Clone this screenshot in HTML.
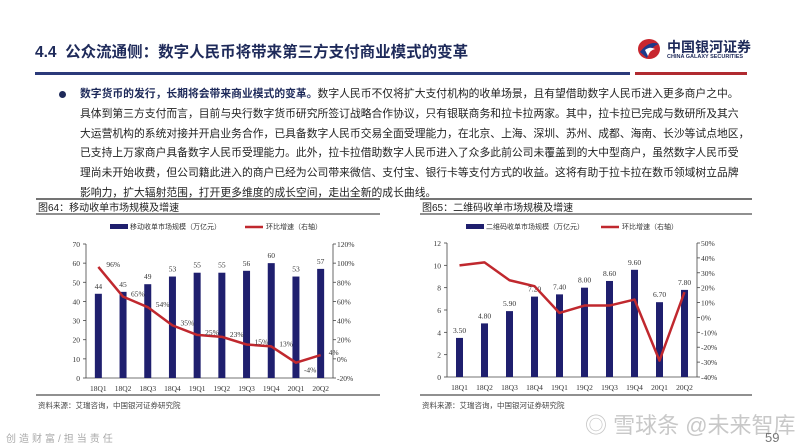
<!DOCTYPE html>
<html><head><meta charset="utf-8"><style>
body{margin:0;width:800px;height:448px;background:#fff;overflow:hidden;position:relative;font-family:"Liberation Sans","Noto Sans CJK SC",sans-serif;}
.abs{position:absolute}
.para{left:80px;top:85px;font-size:10.8px;line-height:19.8px;color:#222;white-space:nowrap}
</style></head><body>
<div class="abs" style="left:35px;top:40px;font-size:15.5px;font-weight:bold;color:#1e2a5a;">4.4&nbsp; 公众流通侧：数字人民币将带来第三方支付商业模式的变革</div>
<div class="abs" style="left:35px;top:72px;width:595px;height:3px;background:#2b3a7a"></div>
<div class="abs" style="left:635px;top:72px;width:112px;height:3px;background:#b02a30"></div>
<div class="abs" style="left:637px;top:38px;width:125px;height:24px;">
<svg width="26" height="22" style="position:absolute;left:0;top:0"><ellipse cx="12" cy="11" rx="11" ry="10" fill="#c8262e"/><path d="M3 14 Q12 2 22 6 Q14 8 10 20 Z" fill="#1e3a8a"/><path d="M8 12 Q13 8 18 11 Q13 12 11 18Z" fill="#fff"/></svg>
<div style="position:absolute;left:30px;top:-1px;font-size:14px;font-weight:bold;color:#1e2a5a;white-space:nowrap">中国银河证券</div>
<div style="position:absolute;left:30px;top:16px;font-size:5.5px;font-weight:bold;color:#1e2a5a;white-space:nowrap">CHINA GALAXY SECURITIES</div>
</div>
<div class="abs" style="left:59px;top:91px;width:7px;height:7px;border-radius:50%;background:#1e2a5a"></div>
<div class="abs para"><b style="color:#1e2a5a">数字货币的发行，长期将会带来商业模式的变革。</b>数字人民币不仅将扩大支付机构的收单场景，且有望借助数字人民币进入更多商户之中。<br>具体到第三方支付而言，目前与央行数字货币研究所签订战略合作协议，只有银联商务和拉卡拉两家。其中，拉卡拉已完成与数研所及其六<br>大运营机构的系统对接并开启业务合作，已具备数字人民币交易全面受理能力，在北京、上海、深圳、苏州、成都、海南、长沙等试点地区，<br>已支持上万家商户具备数字人民币受理能力。此外，拉卡拉借助数字人民币进入了众多此前公司未覆盖到的大中型商户，虽然数字人民币受<br>理尚未开始收费，但公司籍此进入的商户已经为公司带来微信、支付宝、银行卡等支付方式的收益。这将有助于拉卡拉在数币领域树立品牌<br>影响力，扩大辐射范围，打开更多维度的成长空间，走出全新的成长曲线。</div>

<svg class="abs" style="left:0;top:0" width="800" height="448" id="charts"></svg>

<div class="abs" style="left:6px;top:430px;font-size:10px;color:#aaa;letter-spacing:3px">创造财富/担当责任</div>
<div class="abs" style="left:585px;top:408px;font-size:22px;color:#bbb;opacity:.8">◎ 雪球条 @未来智库</div>
<div class="abs" style="left:765px;top:430px;font-size:13px;color:#777">59</div>

<script>
const cats = ["18Q1","18Q2","18Q3","18Q4","19Q1","19Q2","19Q3","19Q4","20Q1","20Q2"];
const mobileVals = [44,45,49,53,55,55,56,60,53,57];
const mobileGrowth = [96,65,54,35,25,23,15,13,-4,4];
const mobileGrowthLabels = ["96%","65%","54%","35%","25%","23%","15%","13%","-4%","4%"];
const leftTicks1 = [0,10,20,30,40,50,60,70];
const rightTicks1 = [-20,0,20,40,60,80,100,120];
const qrVals = [3.5,4.8,5.9,7.2,7.4,8.0,8.6,9.6,6.7,7.8];
const qrGrowth = [35,37,25,21,3,8,8,12,-29,17];
const leftTicks2 = [0,2,4,6,8,10,12];
const rightTicks2 = [-40,-30,-20,-10,0,10,20,30,40,50];

const svg = document.getElementById('charts');
const NS = "http://www.w3.org/2000/svg";
function mk(tag, attrs, text){const e=document.createElementNS(NS,tag);for(const k in attrs)e.setAttribute(k,attrs[k]);if(text!==undefined)e.textContent=text;svg.appendChild(e);return e;}

function drawChart(o){
  const {x0,x1,yTop,yBot,lmin,lmax,rmin,rmax,vals,growth,lt,rt,fmtL,fmtR,valLabels,gLabels,title,legend,key} = o;
  const n=cats.length, step=(x1-x0)/n;
  const X=i=>x0+step*(i+0.5);
  const YL=v=>yBot-(v-lmin)/(lmax-lmin)*(yBot-yTop);
  const YR=v=>yBot-(v-rmin)/(rmax-rmin)*(yBot-yTop);
  let e;
  e=mk('line',{x1:o.hx0,x2:o.hx1,y1:199,y2:199,stroke:'#222','stroke-width':1.3});
  
  e=mk('text',{x:o.hx0+2,y:211,'font-size':10,fill:'#222'},title);
  
  e=mk('line',{x1:o.hx0,x2:o.hx1,y1:214,y2:214,stroke:'#222','stroke-width':1});
  
  e=mk('rect',{x:o.lgx,y:224,width:18,height:5,fill:'#1f1f6e'});
  
  e=mk('text',{x:o.lgx+20,y:229,'font-size':7,fill:'#333'},legend);
  
  e=mk('line',{x1:o.lgx+135,x2:o.lgx+153,y1:227,y2:227,stroke:'#c0282e','stroke-width':2.5});
  
  e=mk('text',{x:o.lgx+156,y:229,'font-size':7,fill:'#333'},'环比增速（右轴）');
  
  e=mk('line',{x1:x0,x2:x0,y1:yTop,y2:yBot,stroke:'#444','stroke-width':0.8});
  
  e=mk('line',{x1:x1,x2:x1,y1:yTop,y2:yBot,stroke:'#444','stroke-width':0.8});
  
  e=mk('line',{x1:x0,x2:x1,y1:yBot,y2:yBot,stroke:'#444','stroke-width':0.8});
  
  lt.forEach(v=>{
    e=mk('text',{x:x0-6,y:YL(v)+3,'font-size':7.5,fill:'#333','text-anchor':'end','font-family':'Liberation Serif'},fmtL(v));
    
    mk('line',{x1:x0-3,x2:x0,y1:YL(v),y2:YL(v),stroke:'#444','stroke-width':0.8});
  });
  rt.forEach(v=>{
    e=mk('text',{x:x1+4,y:YR(v)+3,'font-size':7.5,fill:'#333','font-family':'Liberation Serif'},fmtR(v));
    
    mk('line',{x1:x1,x2:x1+3,y1:YR(v),y2:YR(v),stroke:'#444','stroke-width':0.8});
  });
  cats.forEach((c,i)=>{
    e=mk('text',{x:X(i),y:yBot+13,'font-size':7.5,fill:'#333','text-anchor':'middle','font-family':'Liberation Serif'},c);
    
  });
  vals.forEach((v,i)=>{
    e=mk('rect',{x:X(i)-3.5,y:YL(v),width:7,height:yBot-YL(v),fill:'#1f1f6e'});
    
    e=mk('text',{x:X(i),y:YL(v)-5,'font-size':7.5,fill:'#333','text-anchor':'middle','font-family':'Liberation Serif'},valLabels(v));
    
  });
  e=mk('polyline',{points:growth.map((g,i)=>X(i)+','+YR(g)).join(' '),fill:'none',stroke:'#c0282e','stroke-width':2.5,'stroke-linejoin':'round'});
  
  if(gLabels) growth.forEach((g,i)=>{
    e=mk('text',{x:X(i)+8,y:YR(g)+(i==8?10:0),'font-size':7.5,fill:'#333','font-family':'Liberation Serif'},gLabels[i]);
    
  });
  e=mk('line',{x1:o.hx0,x2:o.hx1,y1:395,y2:395,stroke:'#222','stroke-width':1});
  
  e=mk('text',{x:o.hx0+2,y:408,'font-size':7.5,fill:'#444'},'资料来源：艾瑞咨询，中国银河证券研究院');
  
}

drawChart({key:'mobile-chart',x0:86,x1:333,yTop:244,yBot:378,lmin:0,lmax:70,rmin:-20,rmax:120,
  vals:mobileVals,growth:mobileGrowth,lt:leftTicks1,rt:rightTicks1,fmtL:v=>String(v),fmtR:v=>v+'%',
  valLabels:v=>String(v),gLabels:mobileGrowthLabels,title:'图64：移动收单市场规模及增速',legend:'移动收单市场规模（万亿元）',
  hx0:36,hx1:380,lgx:110});
drawChart({key:'qr-chart',x0:447,x1:697,yTop:243,yBot:377,lmin:0,lmax:12,rmin:-40,rmax:50,
  vals:qrVals,growth:qrGrowth,lt:leftTicks2,rt:rightTicks2,fmtL:v=>String(v),fmtR:v=>v+'%',
  valLabels:v=>v.toFixed(2),gLabels:null,title:'图65：二维码收单市场规模及增速',legend:'二维码收单市场规模（万亿元）',
  hx0:420,hx1:752,lgx:466});
</script>
</body></html>
